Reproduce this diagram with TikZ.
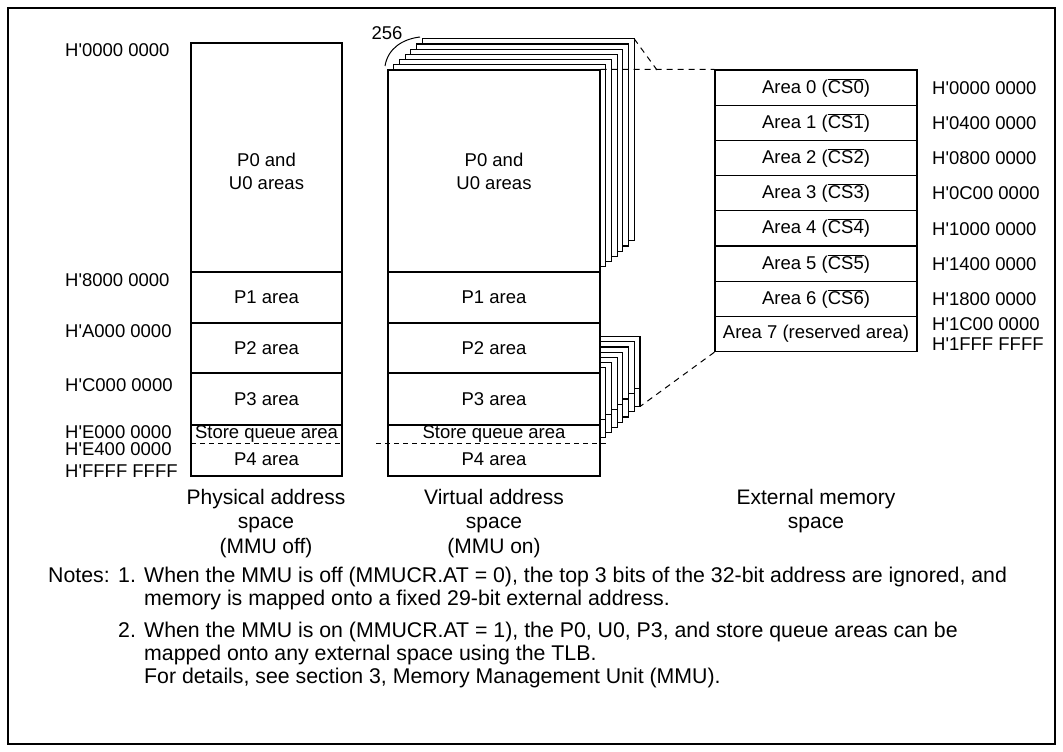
\documentclass[tikz,border=0pt]{standalone}
\usepackage{fontspec}
\setmainfont{Liberation Sans}
\newcommand{\apos}{\textquotesingle}
\begin{document}
\begin{tikzpicture}[x=1pt,y=-1pt]
\tikzset{
 outerframe/.style={draw, line width=1.2pt},
 region/.style={draw, line width=1.2pt, fill=white, inner sep=0pt, font=\fontsize{18.5}{22}\selectfont},
 txt/.style={font=\fontsize{18.5}{23}\selectfont, inner sep=0pt, align=center},
 addr/.style={font=\fontsize{18.5}{22}\selectfont, inner sep=0pt, anchor=west},
 captext/.style={font=\fontsize{21}{24.5}\selectfont, inner sep=0pt, align=center, anchor=north},
 noteline/.style={font=\fontsize{21.3}{23}\selectfont, inner sep=0pt, anchor=base west},
 pagebox/.style={draw, line width=1.2pt, fill=white},
 sqline/.style={line width=1pt, dash pattern=on 5pt off 4pt},
 mapline/.style={line width=1pt, dash pattern=on 6pt off 5pt},
}
\useasboundingbox (0,0) rectangle (1063,752);
\draw[outerframe] (8,8) rectangle (1055,744);

% ---------- physical address space ----------
\node[region, minimum width=151pt, minimum height=229pt] (pp0) at (266.5,157.5) {};
\node[txt] (pp0t) at (266.5,171.5) {P0 and\\U0 areas};
\node[region, minimum width=151pt, minimum height=51pt] (pp1) at (266.5,297.5) {P1 area};
\node[region, minimum width=151pt, minimum height=50pt] (pp2) at (266.5,348) {P2 area};
\node[region, minimum width=151pt, minimum height=52pt] (pp3) at (266.5,399) {P3 area};
\node[region, minimum width=151pt, minimum height=51pt] (pp4) at (266.5,450.5) {};
\coordinate (pqa) at (191,443);
\coordinate (pqb) at (342,443);
\draw[sqline] (pqa) -- (pqb);
\node[txt] (ppq) at (266.5,434) {Store queue area};
\node[txt] (pp4t) at (266.5,459.5) {P4 area};

\node[addr] (la0) at (65,50) {H\apos 0000 0000};
\node[addr] (la1) at (65,280) {H\apos 8000 0000};
\node[addr] (la2) at (65,331) {H\apos A000 0000};
\node[addr] (la3) at (65,385) {H\apos C000 0000};
\node[addr] (la4) at (65,432) {H\apos E000 0000};
\node[addr] (la5) at (65,449) {H\apos E400 0000};
\node[addr] (la6) at (65,471) {H\apos FFFF FFFF};

% ---------- virtual address space: stacked pages ----------
\foreach \k in {6,5,...,1} {
  \draw[pagebox] ({388+5.7*\k},{70-5.2*\k}) rectangle ({600+5.7*\k},{272-5.2*\k});
}
\foreach \k in {7,6,...,1} {
  \draw[pagebox] ({388+5.7*\k},{373-5.2*\k}) rectangle ({600+5.7*\k},{443-5.2*\k});
  \draw[line width=1.2pt] ({388+5.7*\k},{425-5.2*\k}) -- ({600+5.7*\k},{425-5.2*\k});
}
\coordinate (topback) at ({600+5.7*6},{70-5.2*6});
\coordinate (lowback) at ({600+5.7*7},{443-5.2*7});
\coordinate (topjoin) at (657,70);

\node[region, minimum width=212pt, minimum height=202pt] (vp0) at (494,171) {};
\node[txt] (vp0t) at (494,171.5) {P0 and\\U0 areas};
\node[region, minimum width=212pt, minimum height=51pt] (vp1) at (494,297.5) {P1 area};
\node[region, minimum width=212pt, minimum height=50pt] (vp2) at (494,348) {P2 area};
\node[region, minimum width=212pt, minimum height=52pt] (vp3) at (494,399) {P3 area};
\node[region, minimum width=212pt, minimum height=51pt] (vp4) at (494,450.5) {};
\coordinate (vqa) at (376,443);
\coordinate (vqb) at (606,443);
\draw[sqline] (vqa) -- (vqb);
\node[txt] (vpq) at (494,434) {Store queue area};
\node[txt] (vp4t) at (494,459.5) {P4 area};

\node[txt] (n256) at (387,33) {256};
\coordinate (arcA) at (385,66);
\coordinate (arcB) at (420,37);
\draw[line width=1pt] (arcA) .. controls (388,48) and (403,39) .. (arcB);

% ---------- external memory ----------
\foreach \i/\t in {0/{Area 0 ($\overline{\mbox{CS0}}$)},1/{Area 1 ($\overline{\mbox{CS1}}$)},2/{Area 2 ($\overline{\mbox{CS2}}$)},3/{Area 3 ($\overline{\mbox{CS3}}$)},4/{Area 4 ($\overline{\mbox{CS4}}$)},5/{Area 5 ($\overline{\mbox{CS5}}$)},6/{Area 6 ($\overline{\mbox{CS6}}$)},7/{Area 7 (reserved area)}} {
  \node[region, minimum width=202pt, minimum height=35.2pt] (ea\i) at (816,{87.6+35.2*\i}) {\t};
}
\foreach \i/\t in {0/{H\apos 0000 0000},1/{H\apos 0400 0000},2/{H\apos 0800 0000},3/{H\apos 0C00 0000},4/{H\apos 1000 0000},5/{H\apos 1400 0000},6/{H\apos 1800 0000}} {
  \node[addr] (ra\i) at (932,{88+35.2*\i}) {\t};
}
\node[addr] (ra7) at (932,324) {H\apos 1C00 0000};
\node[addr] (ra8) at (932,344) {H\apos 1FFF FFFF};

% ---------- mapping lines ----------
\draw[mapline] (vp0.north east) -- (ea0.north west);
\draw[mapline] (topback) -- (topjoin);
\draw[mapline] (ea7.south west) -- (lowback);

% ---------- captions ----------
\node[captext] (cp) at (266,489) {Physical address\\space\\(MMU off)};
\node[captext] (cv) at (494,489) {Virtual address\\space\\(MMU on)};
\node[captext] (ce) at (816,489) {External memory\\space};

% ---------- notes ----------
\node[noteline] (n0) at (48,582) {Notes:};
\node[noteline] (n1) at (118,582) {1.};
\node[noteline] (n1a) at (144,582) {When the MMU is off (MMUCR.AT = 0), the top 3 bits of the 32-bit address are ignored, and};
\node[noteline] (n1b) at (144,605) {memory is mapped onto a fixed 29-bit external address.};
\node[noteline] (n2) at (118,637) {2.};
\node[noteline] (n2a) at (144,637) {When the MMU is on (MMUCR.AT = 1), the P0, U0, P3, and store queue areas can be};
\node[noteline] (n2b) at (144,660) {mapped onto any external space using the TLB.};
\node[noteline] (n2c) at (144,683) {For details, see section 3, Memory Management Unit (MMU).};
\end{tikzpicture}
\end{document}
